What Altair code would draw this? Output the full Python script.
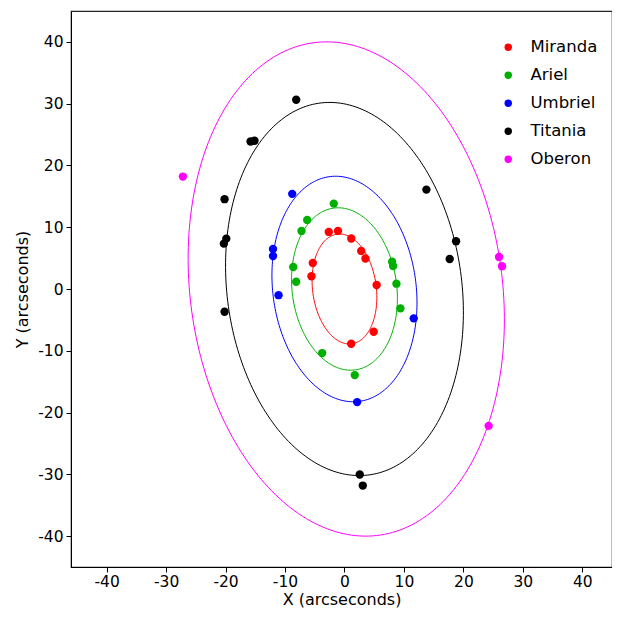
import altair as alt
import numpy as np
import pandas as pd

moons = ["Miranda", "Ariel", "Umbriel", "Titania", "Oberon"]
colors = ["#ff0000", "#00b000", "#0000ff", "#000000", "#ff00ff"]

miranda_x = [-2.64, -1.09, 1.14, 2.81, 3.53, -5.33, -5.55, 5.41, 4.92, 1.13]
miranda_y = [9.24, 9.40, 8.18, 6.16, 4.94, 4.21, 2.07, 0.65, -6.92, -8.87]
ariel_x = [-1.80, -6.27, -7.23, -8.62, -8.12, 8.02, 8.18, 8.74, 9.41, -3.75, 1.73]
ariel_y = [13.82, 11.18, 9.40, 3.57, 1.18, 4.42, 3.73, 0.86, -3.13, -10.37, -13.94]
umbriel_x = [-8.79, -12.02, -12.02, -11.09, 11.65, 2.13]
umbriel_y = [15.40, 6.48, 5.35, -1.00, -4.75, -18.31]
titania_x = [-8.12, -15.80, -15.13, -20.17, -19.88, -20.29, -20.17, 13.78, 18.77, 17.70, 2.57, 3.08]
titania_y = [30.63, 23.87, 23.99, 14.54, 8.15, 7.34, -3.68, 16.09, 7.73, 4.86, -30.03, -31.82]
oberon_x = [-27.18, 26.00, 26.50, 24.25]
oberon_y = [18.20, 5.19, 3.68, -22.15]

# fitted orbit ellipses: semi-major / semi-minor axes, centres (arcseconds), common tilt
orbit_a = [8.96, 13.22, 18.36, 30.38, 40.24]
orbit_b = [5.35, 8.79, 12.04, 19.73, 26.24]
orbit_cx = [0.0, 0.0, 0.0, 0.0, 0.3]
orbit_cy = [0.0, 0.0, 0.0, 0.0, 0.0]
orbit_tilt_deg = 8.2

tick_values = [-40, -30, -20, -10, 0, 10, 20, 30, 40]

obs_x = [miranda_x, ariel_x, umbriel_x, titania_x, oberon_x]
obs_y = [miranda_y, ariel_y, umbriel_y, titania_y, oberon_y]

pts = pd.concat(
    [pd.DataFrame({"moon": m, "x": xs, "y": ys}) for m, xs, ys in zip(moons, obs_x, obs_y)],
    ignore_index=True,
)

phi = np.radians(orbit_tilt_deg)
t = np.linspace(0, 2 * np.pi, 241)
frames = []
for m, a, b, cx, cy in zip(moons, orbit_a, orbit_b, orbit_cx, orbit_cy):
    ex = cx - a * np.sin(phi) * np.cos(t) + b * np.cos(phi) * np.sin(t)
    ey = cy + a * np.cos(phi) * np.cos(t) + b * np.sin(phi) * np.sin(t)
    frames.append(pd.DataFrame({"moon": m, "x": ex, "y": ey, "i": np.arange(len(t))}))
orb = pd.concat(frames, ignore_index=True)

FONT = "DejaVu Sans"
xscale = alt.Scale(domain=[-46, 45], nice=False, zero=False)
yscale = alt.Scale(domain=[-45, 45], nice=False, zero=False)
xaxis = alt.Axis(values=tick_values, title="X (arcseconds)", grid=False, tickSize=5,
                 labelExpr="'' + datum.value",
                 labelFontSize=15.5, titleFontSize=16, titleFontWeight="normal",
                 labelPadding=2, titlePadding=2)
yaxis = alt.Axis(values=tick_values, title="Y (arcseconds)", grid=False, tickSize=5,
                 labelExpr="'' + datum.value",
                 labelFontSize=15.5, titleFontSize=16, titleFontWeight="normal",
                 labelPadding=3, titlePadding=7)

lines = alt.Chart(orb).mark_line(strokeWidth=1).encode(
    x=alt.X("x:Q", scale=xscale, axis=xaxis),
    y=alt.Y("y:Q", scale=yscale, axis=yaxis),
    color=alt.Color("moon:N", scale=alt.Scale(domain=moons, range=colors), legend=None),
    detail="moon:N",
    order="i:Q",
)

points = alt.Chart(pts).mark_circle(size=70, opacity=1).encode(
    x=alt.X("x:Q", scale=xscale, axis=xaxis),
    y=alt.Y("y:Q", scale=yscale, axis=yaxis),
    color=alt.Color(
        "moon:N",
        scale=alt.Scale(domain=moons, range=colors),
        sort=moons,
        legend=alt.Legend(orient="none", legendX=429, legendY=28, title=None,
                          labelFontSize=16.5, symbolSize=55, symbolType="circle",
                          labelOffset=14, rowPadding=11, symbolStrokeWidth=0),
    ),
)

chart = alt.layer(lines, points).resolve_scale(color="independent").properties(
    width=541, height=556,
    padding={"left": 63, "top": 3, "right": 0, "bottom": 43},
    autosize=alt.AutoSizeParams(type="none"),
).configure(font=FONT).configure_axis(
    labelFont=FONT, titleFont=FONT, labelColor="#000", titleColor="#000",
    domainColor="#000", tickColor="#000",
).configure_legend(labelFont=FONT, labelColor="#000").configure_view(
    stroke="#222", strokeWidth=1.2
)

chart.save("out.html", embed_options={"renderer": "svg", "actions": False})
